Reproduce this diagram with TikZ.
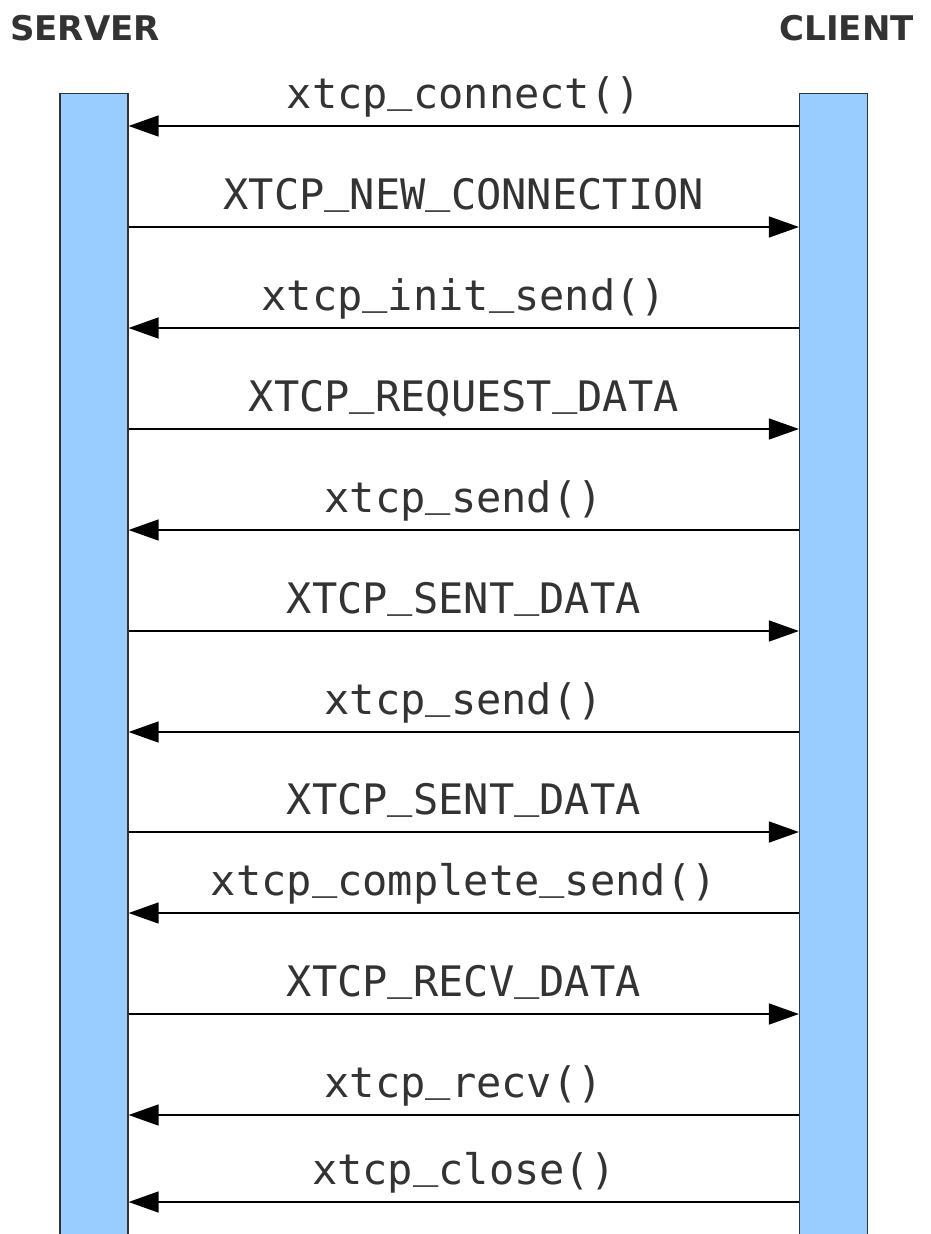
\documentclass[tikz,border=0pt]{standalone}
\usepackage{fontspec}
\setmainfont{DejaVu Sans}
\setmonofont{DejaVu Sans Mono}
\usetikzlibrary{arrows.meta}

\definecolor{barblue}{HTML}{99CCFF}
\definecolor{textgray}{HTML}{333333}

% underscore sitting on the baseline
\newcommand{\usc}{\raisebox{7pt}{\_}}

\tikzset{
  lifeline/.style={draw=black!80, fill=barblue, line width=1.2pt, inner sep=0pt,
    minimum width=68pt, minimum height=1150pt, anchor=north},
  msg/.style={line width=1.5pt, -{Triangle[length=30pt,width=21pt]}},
  msglabel/.style={font=\fontsize{42}{48}\selectfont\ttfamily, text=textgray,
    anchor=base, inner sep=0pt, yshift=18pt},
  role/.style={font=\fontsize{34}{40}\selectfont\bfseries, text=textgray, inner sep=0pt}
}

\begin{document}
\begin{tikzpicture}[x=1pt, y=-1pt]
  \useasboundingbox (0,0) rectangle (931,1234);

  \node[role, anchor=base west] (srvname) at (10,40) {SERVER};
  \node[role, anchor=base east] (cliname) at (914,40) {CLIENT};

  \node[lifeline] (server) at (94,93) {};
  \node[lifeline] (client) at (833.5,93) {};

  % client -> server calls, server -> client events
  \draw[msg] (client.west |- 0,126) -- node[msglabel] (m1) {xtcp\usc connect()} (server.east |- 0,126);
  \draw[msg] (server.east |- 0,227) -- node[msglabel] (m2) {XTCP\usc NEW\usc CONNECTION} (client.west |- 0,227);
  \draw[msg] (client.west |- 0,328) -- node[msglabel] (m3) {xtcp\usc init\usc send()} (server.east |- 0,328);
  \draw[msg] (server.east |- 0,429) -- node[msglabel] (m4) {XTCP\usc REQUEST\usc DATA} (client.west |- 0,429);
  \draw[msg] (client.west |- 0,530) -- node[msglabel] (m5) {xtcp\usc send()} (server.east |- 0,530);
  \draw[msg] (server.east |- 0,631) -- node[msglabel] (m6) {XTCP\usc SENT\usc DATA} (client.west |- 0,631);
  \draw[msg] (client.west |- 0,732) -- node[msglabel] (m7) {xtcp\usc send()} (server.east |- 0,732);
  \draw[msg] (server.east |- 0,832) -- node[msglabel] (m8) {XTCP\usc SENT\usc DATA} (client.west |- 0,832);
  \draw[msg] (client.west |- 0,913) -- node[msglabel] (m9) {xtcp\usc complete\usc send()} (server.east |- 0,913);
  \draw[msg] (server.east |- 0,1014) -- node[msglabel] (m10) {XTCP\usc RECV\usc DATA} (client.west |- 0,1014);
  \draw[msg] (client.west |- 0,1115) -- node[msglabel] (m11) {xtcp\usc recv()} (server.east |- 0,1115);
  \draw[msg] (client.west |- 0,1202) -- node[msglabel] (m12) {xtcp\usc close()} (server.east |- 0,1202);
\end{tikzpicture}
\end{document}
